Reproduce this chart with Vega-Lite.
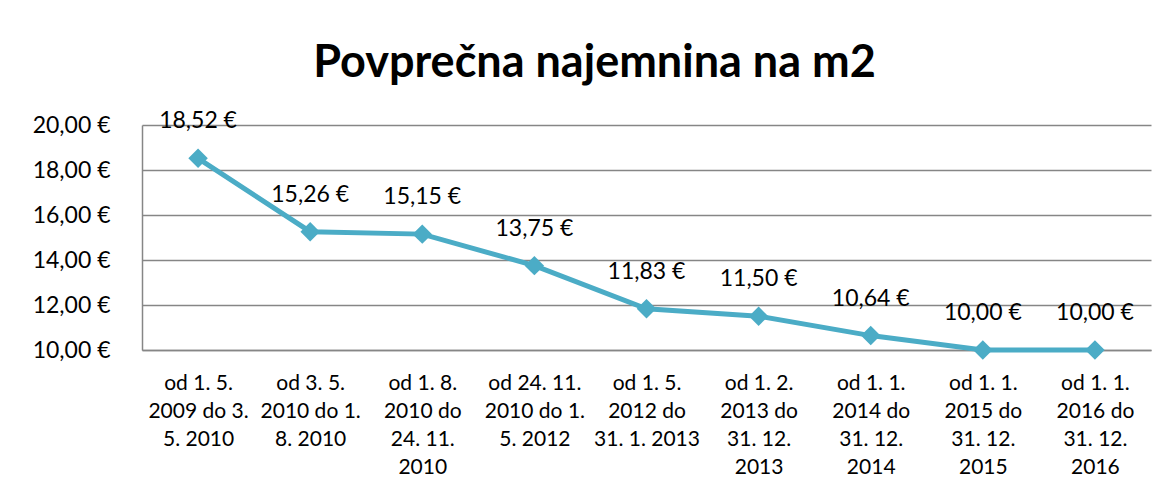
{
  "$schema": "https://vega.github.io/schema/vega-lite/v6.json",
  "autosize": {"type": "none"},
  "width": 1009,
  "height": 225,
  "padding": {"left": 142, "top": 125, "right": 18, "bottom": 141},
  "background": "white",
  "config": {
    "font": "Lato",
    "locale": {"number": {"decimal": ",", "thousands": ".", "grouping": [3], "currency": ["", " €"]}},
    "view": {"stroke": null},
    "axis": {"labelFont": "Lato", "labelColor": "#000000"}
  },
  "title": {
    "text": "Povprečna najemnina na m2",
    "font": "Lato",
    "fontSize": 45,
    "fontWeight": "bold",
    "color": "#000000",
    "anchor": "middle",
    "dx": -52,
    "offset": 24
  },
  "data": {
    "values": [
      {"obdobje": "od 1. 5.\n2009 do 3.\n5. 2010", "najemnina": 18.52},
      {"obdobje": "od 3. 5.\n2010 do 1.\n8. 2010", "najemnina": 15.26},
      {"obdobje": "od 1. 8.\n2010 do\n24. 11.\n2010", "najemnina": 15.15},
      {"obdobje": "od 24. 11.\n2010 do 1.\n5. 2012", "najemnina": 13.75},
      {"obdobje": "od 1. 5.\n2012 do\n31. 1. 2013", "najemnina": 11.83},
      {"obdobje": "od 1. 2.\n2013 do\n31. 12.\n2013", "najemnina": 11.5},
      {"obdobje": "od 1. 1.\n2014 do\n31. 12.\n2014", "najemnina": 10.64},
      {"obdobje": "od 1. 1.\n2015 do\n31. 12.\n2015", "najemnina": 10.0},
      {"obdobje": "od 1. 1.\n2016 do\n31. 12.\n2016", "najemnina": 10.0}
    ]
  },
  "encoding": {
    "x": {
      "field": "obdobje",
      "type": "ordinal",
      "sort": null,
      "scale": {"padding": 0.5},
      "axis": {
        "title": null,
        "labelAngle": 0,
        "labelExpr": "split(datum.value, '\\n')",
        "labelFontSize": 21,
        "labelLineHeight": 28,
        "labelPadding": 22,
        "ticks": false,
        "domain": true,
        "domainColor": "#868686",
        "domainWidth": 1.5,
        "grid": false,
        "labelBaseline": "top"
      }
    },
    "y": {
      "field": "najemnina",
      "type": "quantitative",
      "scale": {"domain": [10, 20], "nice": false, "zero": false},
      "axis": {
        "title": null,
        "values": [10, 12, 14, 16, 18, 20],
        "format": "$.2f",
        "labelFontSize": 23,
        "labelPadding": 32,
        "ticks": false,
        "domain": true,
        "domainColor": "#868686",
        "domainWidth": 1.5,
        "grid": true,
        "gridColor": "#868686",
        "gridWidth": 1.5
      }
    }
  },
  "layer": [
    {
      "mark": {"type": "line", "color": "#4BACC6", "strokeWidth": 5, "point": {"shape": "diamond", "size": 380, "filled": true, "color": "#4BACC6", "opacity": 1}}
    },
    {
      "mark": {"type": "text", "fontSize": 23, "color": "#000000", "baseline": "middle", "dy": -37, "font": "Lato"},
      "encoding": {"text": {"field": "najemnina", "type": "quantitative", "format": "$.2f"}}
    }
  ]
}
